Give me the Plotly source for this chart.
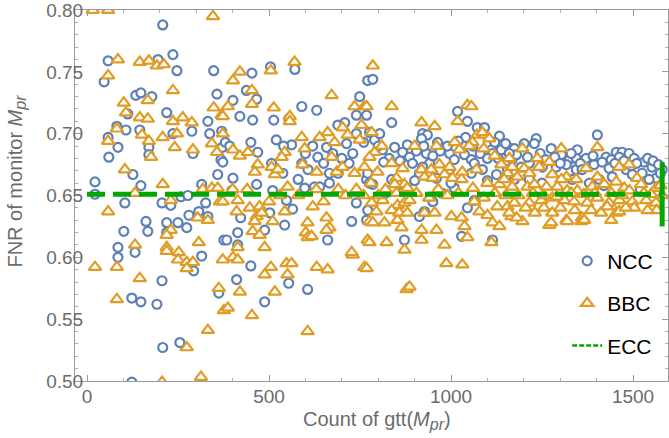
import plotly.graph_objects as go

# ---------------- data ----------------
ncc_x = [208, 58, 47, 236, 247, 195, 348, 357, 134, 148, 178, 219, 112, 82, 107, 58, 85, 60, 145, 170,
         170, 236, 288, 332, 337, 291, 359, 126, 22, 22, 148, 104, 206, 230, 258, 277, 315, 326, 280, 307,
         162, 167, 101, 219, 219, 250, 274, 332, 85, 85, 132, 315, 293, 206, 123, 148, 192, 362, 208, 255,
         123, 376, 370, 372, 368,
         453, 504, 571, 438, 466, 401, 420, 455, 513, 554, 590, 631, 380, 392, 450, 469, 373, 401, 562, 590,
         607, 634, 507, 538, 466, 398, 510, 548, 565, 422, 502, 543, 598, 625, 666, 689, 708, 658, 675, 713,
         730, 749, 740, 768, 771, 768, 771, 639, 666, 740, 727, 661, 384, 414, 414, 488, 450, 411, 554, 606,
         488,
         785, 837, 1018, 1045, 922, 935, 963, 919, 1072, 1092, 1133, 790, 776, 804, 845, 867, 812, 886, 894, 932,
         941, 922, 996, 1009, 1031, 1037, 1056, 1111, 1114, 1138, 1166, 771, 785, 776, 837, 858, 878, 913, 960, 996,
         1064, 1056, 1086, 1125, 1155, 974, 1009, 768, 927, 913, 872, 1029, 1114, 1064, 1045,
         1402, 1234, 1229, 1201, 1174, 1275, 1347, 1303, 1325, 1344, 1380, 1371, 1426, 1454, 1470, 1462, 1489, 1503,
         1530, 1552, 1580, 1563, 1168, 1193, 1215, 1251, 1289, 1317, 1344, 1393, 1434, 1443, 1481, 1498, 1525, 1544,
         1333, 1380, 1407, 1306, 1174, 1215,
         1000, 1100, 1250, 1420, 1520, 900, 820, 950,
         1180, 1210, 1245, 1260, 1285, 1300, 1330, 1355, 1360, 1390, 1415, 1440, 1450, 1475, 1495, 1510, 1540, 1555,
         1570, 1575, 1160, 1150, 1120, 1130, 1100, 1080, 1060, 1040, 1020, 990, 970, 950, 925, 905, 880, 860, 830,
         815, 800, 760, 740, 720, 700, 690, 650, 620, 600, 580, 540, 520]
ncc_y = [0.788, 0.759, 0.742, 0.764, 0.751, 0.760, 0.751, 0.732, 0.731, 0.733, 0.730, 0.717, 0.716, 0.706, 0.703, 0.697, 0.689, 0.681, 0.703, 0.689,
         0.683, 0.700, 0.702, 0.710, 0.700, 0.684, 0.667, 0.667, 0.661, 0.651, 0.658, 0.644, 0.644, 0.642, 0.649, 0.650, 0.659, 0.644, 0.634, 0.637,
         0.629, 0.621, 0.621, 0.628, 0.620, 0.628, 0.624, 0.633, 0.608, 0.600, 0.604, 0.601, 0.589, 0.581, 0.567, 0.564, 0.562, 0.571, 0.527, 0.531,
         0.499, 0.614, 0.702, 0.689, 0.679,
         0.749, 0.754, 0.752, 0.735, 0.728, 0.727, 0.714, 0.711, 0.711, 0.712, 0.722, 0.719, 0.693, 0.690, 0.693, 0.685, 0.677, 0.664, 0.691, 0.676,
         0.671, 0.681, 0.676, 0.668, 0.659, 0.654, 0.654, 0.646, 0.639, 0.632, 0.636, 0.626, 0.656, 0.657, 0.668, 0.707, 0.709, 0.689, 0.684, 0.692,
         0.684, 0.730, 0.715, 0.715, 0.743, 0.663, 0.638, 0.657, 0.660, 0.644, 0.629, 0.614, 0.614, 0.620, 0.610, 0.622, 0.593, 0.582, 0.579, 0.574,
         0.564,
         0.744, 0.709, 0.718, 0.710, 0.700, 0.699, 0.693, 0.696, 0.705, 0.705, 0.698, 0.695, 0.701, 0.700, 0.689, 0.685, 0.687, 0.681, 0.676, 0.684,
         0.676, 0.673, 0.684, 0.679, 0.691, 0.683, 0.679, 0.687, 0.684, 0.687, 0.688, 0.668, 0.659, 0.660, 0.663, 0.659, 0.656, 0.668, 0.664, 0.671,
         0.676, 0.668, 0.671, 0.667, 0.671, 0.652, 0.656, 0.630, 0.637, 0.633, 0.614, 0.617, 0.614, 0.646, 0.640,
         0.699, 0.696, 0.692, 0.692, 0.688, 0.688, 0.687, 0.683, 0.679, 0.680, 0.677, 0.680, 0.681, 0.685, 0.685, 0.681, 0.684, 0.680,
         0.677, 0.673, 0.671, 0.664, 0.679, 0.673, 0.676, 0.673, 0.673, 0.675, 0.671, 0.675, 0.672, 0.665, 0.671, 0.667, 0.668, 0.663,
         0.663, 0.660, 0.663, 0.648, 0.663, 0.663,
         0.660, 0.662, 0.660, 0.658, 0.655, 0.662, 0.652, 0.645,
         0.683, 0.681, 0.684, 0.679, 0.681, 0.676, 0.684, 0.676, 0.671, 0.682, 0.677, 0.679, 0.676, 0.678, 0.674, 0.676, 0.680, 0.678,
         0.675, 0.668, 0.684, 0.692, 0.693, 0.680, 0.680, 0.684, 0.690, 0.697, 0.694, 0.690, 0.686, 0.682, 0.690, 0.686, 0.691, 0.678, 0.680,
         0.677, 0.690, 0.693, 0.700, 0.676, 0.680, 0.668, 0.676, 0.690, 0.684, 0.663, 0.690, 0.695]

bbc_x = [16, 58, 346, 85, 58, 145, 170, 192, 211, 236, 101, 107, 167, 145, 167, 82, 58, 151, 170, 208,
         236, 263, 288, 247, 241, 291, 176, 348, 370, 343, 357, 104, 208, 132, 230, 318, 343, 359, 365, 58,
         304, 332, 230, 219, 219, 219, 132, 307, 252, 250, 274, 291, 274, 22, 82, 145, 82, 362, 376, 332,
         274, 206, 313,
         570, 505, 420, 401, 453, 453, 387, 373, 513, 557, 557, 672, 735, 762, 373, 401, 420, 442, 469, 461,
         507, 516, 524, 543, 535, 590, 598, 592, 631, 639, 661, 680, 672, 686, 702, 716, 702, 735, 754, 749,
         762, 551, 373, 414, 411, 447, 474, 466, 480, 461, 510, 543, 620, 606, 658, 666, 658, 601, 606, 617,
         455, 474, 414, 401, 414, 488, 373, 505, 488, 548, 562, 551, 631, 661, 730, 762, 771, 420, 516, 387,
         453, 606, 727,
         785, 837, 768, 1045, 919, 955, 1018, 1072, 1092, 1059, 1105, 782, 790, 776, 837, 798, 867, 850, 872, 845,
         919, 946, 927, 949, 968, 982, 996, 1023, 1031, 1004, 1029, 1070, 1100, 1133, 1138, 1155, 1146, 782, 812, 853,
         872, 886, 795, 837, 858, 880, 776, 785, 817, 853, 864, 927, 955, 1001, 1029, 1037, 919, 960, 919, 1064,
         1078, 1100, 1114, 1133, 1127, 1155, 1166, 1045, 1111, 982, 776, 823, 872, 987, 1031, 768, 878, 886, 1056, 1086,
         1196, 1303, 1402, 1237, 1270, 1168, 1201, 1242, 1371, 1402, 1462, 1489, 1182, 1215, 1278, 1317, 1344, 1303, 1168, 1210,
         1229, 1262, 1292, 1319, 1347, 1388, 1421, 1454, 1476, 1511, 1522, 1563, 1174, 1215, 1248, 1278, 1311, 1338, 1374, 1402,
         1434, 1462, 1498, 1536, 1563, 1160, 1196, 1278, 1270, 1317, 1319, 1360, 1358, 1454, 1503, 1462, 1412, 1429, 1580, 1275,
         1366,
         1185, 1225, 1255, 1290, 1330, 1365, 1395, 1440, 1470, 1490, 1530, 1550, 1575, 1565, 1540, 1480, 1440, 1385, 1340, 1300,
         1255, 1230, 1205, 1180, 1150, 1120, 1090, 1060, 1020, 990, 965, 940, 905, 880, 850, 820, 800, 780, 760, 740,
         710, 690, 650, 630, 580, 530, 500, 440, 400,
         810, 900, 960, 1010, 1050, 1090, 1120, 1160]
bbc_y = [0.800, 0.800, 0.795, 0.760, 0.747, 0.758, 0.759, 0.755, 0.756, 0.735, 0.725, 0.717, 0.727, 0.713, 0.712, 0.704, 0.694, 0.699, 0.694, 0.697,
         0.710, 0.713, 0.709, 0.700, 0.689, 0.687, 0.681, 0.721, 0.715, 0.692, 0.685, 0.671, 0.659, 0.652, 0.646, 0.655, 0.656, 0.656, 0.645, 0.637,
         0.632, 0.630, 0.622, 0.618, 0.608, 0.605, 0.610, 0.612, 0.604, 0.598, 0.596, 0.596, 0.591, 0.592, 0.592, 0.583, 0.566, 0.575, 0.557, 0.541,
         0.527, 0.499, 0.503,
         0.758, 0.751, 0.750, 0.743, 0.735, 0.724, 0.722, 0.714, 0.721, 0.714, 0.710, 0.731, 0.722, 0.722, 0.700, 0.687, 0.682, 0.685, 0.675, 0.669,
         0.673, 0.667, 0.671, 0.685, 0.681, 0.697, 0.688, 0.675, 0.669, 0.697, 0.701, 0.693, 0.681, 0.669, 0.705, 0.699, 0.673, 0.668, 0.707, 0.695,
         0.673, 0.657, 0.645, 0.646, 0.637, 0.640, 0.641, 0.633, 0.636, 0.629, 0.629, 0.637, 0.641, 0.628, 0.632, 0.624, 0.622, 0.620, 0.616, 0.617,
         0.621, 0.618, 0.608, 0.600, 0.598, 0.608, 0.598, 0.592, 0.586, 0.595, 0.595, 0.586, 0.592, 0.590, 0.602, 0.592, 0.614, 0.572, 0.572, 0.559,
         0.553, 0.540, 0.604,
         0.755, 0.722, 0.722, 0.723, 0.709, 0.706, 0.710, 0.699, 0.699, 0.693, 0.696, 0.701, 0.685, 0.681, 0.676, 0.669, 0.672, 0.664, 0.659, 0.659,
         0.671, 0.671, 0.665, 0.664, 0.675, 0.667, 0.673, 0.687, 0.669, 0.664, 0.663, 0.671, 0.660, 0.659, 0.675, 0.668, 0.663, 0.644, 0.646, 0.642,
         0.644, 0.646, 0.637, 0.638, 0.636, 0.636, 0.629, 0.628, 0.628, 0.630, 0.624, 0.636, 0.636, 0.633, 0.632, 0.625, 0.622, 0.622, 0.614, 0.645,
         0.637, 0.634, 0.628, 0.625, 0.641, 0.641, 0.633, 0.616, 0.612, 0.610, 0.612, 0.612, 0.606, 0.595, 0.594, 0.591, 0.574, 0.576, 0.722, 0.701,
         0.688, 0.688, 0.689, 0.680, 0.677, 0.673, 0.672, 0.673, 0.672, 0.665, 0.673, 0.675, 0.665, 0.668, 0.667, 0.665, 0.663, 0.663, 0.657, 0.657,
         0.659, 0.657, 0.657, 0.654, 0.654, 0.657, 0.659, 0.661, 0.656, 0.664, 0.659, 0.656, 0.644, 0.644, 0.646, 0.648, 0.646, 0.645, 0.644, 0.648,
         0.644, 0.646, 0.645, 0.646, 0.644, 0.636, 0.629, 0.636, 0.626, 0.630, 0.629, 0.632, 0.629, 0.636, 0.640, 0.637, 0.636, 0.641, 0.650, 0.628,
         0.630,
         0.650, 0.652, 0.650, 0.649, 0.652, 0.651, 0.652, 0.652, 0.650, 0.654, 0.652, 0.651, 0.658, 0.638, 0.638, 0.640, 0.630, 0.638, 0.638, 0.640,
         0.640, 0.636, 0.640, 0.632, 0.650, 0.652, 0.648, 0.656, 0.652, 0.650, 0.655, 0.648, 0.652, 0.656, 0.652, 0.655, 0.650, 0.660, 0.650, 0.655,
         0.650, 0.655, 0.645, 0.655, 0.650, 0.650, 0.645, 0.655, 0.655,
         0.690, 0.690, 0.690, 0.693, 0.690, 0.688, 0.682, 0.680]

ecc_x = [0, 1580]
ecc_y = [0.651, 0.651]
ecc_err = [0, 0.026]

x_ticks = [0, 500, 1000, 1500]
y_ticks = [0.50, 0.55, 0.60, 0.65, 0.70, 0.75, 0.80]

BLUE = "#5E81B5"
ORANGE = "#E19C24"
GREEN = "#00A800"
GRAY = "#6b6b6b"
FONT = "Liberation Sans, Arial, sans-serif"

fig = go.Figure()

fig.add_trace(go.Scatter(
    x=ncc_x, y=ncc_y, mode="markers", name="NCC", legendgroup="a",
    marker=dict(symbol="circle", size=9, color="white", line=dict(color=BLUE, width=2.2))))

fig.add_trace(go.Scatter(
    x=bbc_x, y=bbc_y, mode="markers", name="BBC", legendgroup="b",
    marker=dict(symbol="triangle-up", size=11, color="white", line=dict(color=ORANGE, width=2.2))))

fig.add_trace(go.Scatter(
    x=ecc_x, y=ecc_y, mode="lines", name="ECC", showlegend=False,
    line=dict(color=GREEN, width=5, dash="18px,8px"),
    error_y=dict(type="data", array=ecc_err, visible=True, color=GREEN, thickness=5, width=0)))

# legend-only entry for ECC (short thin dashes as in the reference)
fig.add_trace(go.Scatter(
    x=[None], y=[None], mode="lines", name="ECC", legendgroup="c",
    line=dict(color=GREEN, width=2.5, dash="5px,2px")))

axis_common = dict(
    showline=True, linecolor="#9a9a9a", linewidth=1, mirror="allticks",
    ticks="inside", ticklen=6, tickcolor="#9a9a9a", tickwidth=1,
    showgrid=False, zeroline=False, automargin=False, ticklabeloverflow="allow",
    tickfont=dict(family=FONT, size=19, color=GRAY),
)

fig.update_xaxes(
    range=[-33, 1596], tickvals=x_ticks, ticklabelstandoff=-2,
    minor=dict(ticks="inside", ticklen=3, dtick=100, tickcolor="#b0b0b0", showgrid=False),
    **axis_common)

fig.update_yaxes(
    range=[0.4999, 0.8001], tickvals=y_ticks, tickformat=".2f", ticklabelstandoff=-13,
    minor=dict(ticks="inside", ticklen=3, dtick=0.01, tickcolor="#b0b0b0", showgrid=False),
    **axis_common)

SUB = "<sub><span style='font-size:16px'><i>pr</i></span></sub>"
fig.add_annotation(text="Count of gtt(<i>M</i>" + SUB + ")", xref="paper", yref="paper",
                   x=0.51, y=-0.106, xanchor="center", yanchor="middle", showarrow=False,
                   font=dict(family=FONT, size=20, color=GRAY))
fig.add_annotation(text="FNR of monitor <i>M</i>" + SUB, xref="paper", yref="paper",
                   x=-0.098, y=0.54, xanchor="center", yanchor="middle", showarrow=False,
                   textangle=-90, font=dict(family=FONT, size=20, color=GRAY))

fig.update_layout(
    width=669, height=438,
    margin=dict(l=75, r=1, t=10, b=57),
    paper_bgcolor="white", plot_bgcolor="white",
    font=dict(family=FONT),
    legend=dict(x=0.83, y=0.378, xanchor="left", yanchor="top",
                bgcolor="rgba(255,255,255,0)", font=dict(family=FONT, size=21, color="black"),
                tracegroupgap=12, itemwidth=30),
)

fig.write_html("out.html", config={"displayModeBar": False},
               post_script="document.body.style.margin='0px';")
